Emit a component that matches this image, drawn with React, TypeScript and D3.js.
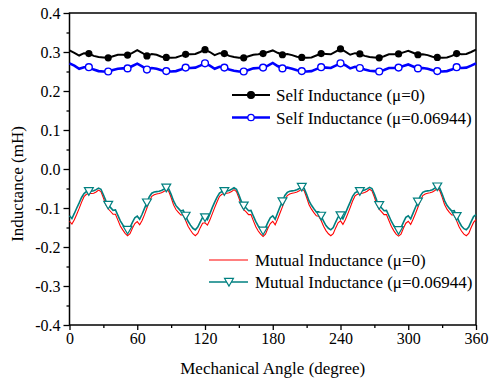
import React, { useEffect, useRef } from 'react';
import * as d3 from 'd3';

// axis ticks
const xTicks = [0, 60, 120, 180, 240, 300, 360];
const xMinorTicks = [30, 90, 150, 210, 270, 330];
const yTicks = [0.4, 0.3, 0.2, 0.1, 0, -0.1, -0.2, -0.3, -0.4];
const yTickLabels = ['0.4', '0.3', '0.2', '0.1', '0.0', '-0.1', '-0.2', '-0.3', '-0.4'];
const yMinorTicks = [0.35, 0.25, 0.15, 0.05, -0.05, -0.15, -0.25, -0.35];

// self inductance, sampled every 360/84 degree
const selfMu0 = [
  0.304, 0.298, 0.291, 0.297, 0.296, 0.290, 0.287, 0.286, 0.285, 0.289, 0.293, 0.293, 0.292, 0.298,
  0.305, 0.298, 0.290, 0.295, 0.293, 0.288, 0.286, 0.285, 0.286, 0.290, 0.294, 0.294, 0.295, 0.300,
  0.306, 0.300, 0.292, 0.297, 0.296, 0.290, 0.287, 0.285, 0.285, 0.289, 0.293, 0.294, 0.296, 0.300,
  0.304, 0.298, 0.293, 0.295, 0.292, 0.288, 0.286, 0.285, 0.286, 0.291, 0.296, 0.295, 0.294, 0.301,
  0.308, 0.301, 0.293, 0.297, 0.295, 0.290, 0.287, 0.286, 0.285, 0.289, 0.294, 0.294, 0.295, 0.299,
  0.303, 0.298, 0.293, 0.294, 0.292, 0.288, 0.286, 0.285, 0.286, 0.290, 0.296, 0.294, 0.295, 0.300,
  0.306,
];
const selfMu1 = [
  0.271, 0.265, 0.257, 0.261, 0.261, 0.255, 0.251, 0.250, 0.250, 0.254, 0.257, 0.258, 0.258, 0.264,
  0.270, 0.263, 0.255, 0.259, 0.257, 0.253, 0.251, 0.250, 0.251, 0.255, 0.260, 0.259, 0.260, 0.265,
  0.271, 0.265, 0.257, 0.262, 0.260, 0.255, 0.252, 0.250, 0.250, 0.254, 0.258, 0.259, 0.260, 0.265,
  0.272, 0.264, 0.258, 0.260, 0.257, 0.253, 0.251, 0.250, 0.251, 0.256, 0.261, 0.260, 0.259, 0.265,
  0.271, 0.266, 0.258, 0.262, 0.259, 0.255, 0.252, 0.251, 0.250, 0.254, 0.259, 0.259, 0.260, 0.264,
  0.268, 0.263, 0.258, 0.259, 0.257, 0.253, 0.251, 0.250, 0.251, 0.255, 0.261, 0.259, 0.260, 0.265,
  0.271,
];

// mutual inductance, sampled every 360/168 degree
const mutualMu0 = [
  -0.134, -0.141, -0.130, -0.116, -0.101, -0.085, -0.071, -0.065, -0.063, -0.063, -0.062, -0.059, -0.054, -0.058,
  -0.074, -0.091, -0.102, -0.109, -0.116, -0.116, -0.131, -0.146, -0.156, -0.165, -0.171, -0.166, -0.152, -0.140,
  -0.135, -0.143, -0.132, -0.117, -0.100, -0.083, -0.070, -0.066, -0.064, -0.063, -0.061, -0.058, -0.053, -0.057,
  -0.073, -0.092, -0.104, -0.111, -0.118, -0.117, -0.132, -0.147, -0.157, -0.166, -0.171, -0.165, -0.151, -0.139,
  -0.138, -0.144, -0.131, -0.115, -0.099, -0.084, -0.070, -0.065, -0.063, -0.062, -0.061, -0.058, -0.053, -0.058,
  -0.074, -0.093, -0.104, -0.110, -0.117, -0.117, -0.133, -0.148, -0.159, -0.167, -0.173, -0.167, -0.152, -0.140,
  -0.134, -0.143, -0.129, -0.113, -0.097, -0.080, -0.068, -0.064, -0.062, -0.061, -0.059, -0.056, -0.051, -0.056,
  -0.073, -0.092, -0.103, -0.112, -0.120, -0.121, -0.132, -0.147, -0.158, -0.166, -0.171, -0.166, -0.151, -0.138,
  -0.133, -0.142, -0.130, -0.115, -0.099, -0.082, -0.069, -0.065, -0.063, -0.062, -0.060, -0.057, -0.052, -0.056,
  -0.072, -0.091, -0.103, -0.110, -0.117, -0.117, -0.132, -0.147, -0.158, -0.167, -0.172, -0.167, -0.152, -0.139,
  -0.134, -0.142, -0.129, -0.114, -0.098, -0.081, -0.068, -0.064, -0.062, -0.061, -0.059, -0.055, -0.050, -0.055,
  -0.072, -0.091, -0.103, -0.111, -0.118, -0.118, -0.133, -0.148, -0.159, -0.167, -0.171, -0.165, -0.150, -0.137,
  -0.130,
];
const mutualMu1 = [
  -0.120, -0.127, -0.114, -0.100, -0.087, -0.073, -0.063, -0.058, -0.057, -0.057, -0.056, -0.053, -0.049, -0.052,
  -0.066, -0.081, -0.092, -0.099, -0.106, -0.105, -0.119, -0.133, -0.143, -0.151, -0.156, -0.150, -0.137, -0.125,
  -0.121, -0.129, -0.116, -0.101, -0.086, -0.071, -0.062, -0.059, -0.058, -0.057, -0.055, -0.052, -0.048, -0.051,
  -0.065, -0.082, -0.094, -0.101, -0.108, -0.106, -0.120, -0.134, -0.144, -0.152, -0.156, -0.149, -0.136, -0.124,
  -0.124, -0.130, -0.115, -0.099, -0.085, -0.072, -0.062, -0.058, -0.057, -0.056, -0.055, -0.052, -0.048, -0.052,
  -0.066, -0.083, -0.094, -0.100, -0.107, -0.106, -0.121, -0.135, -0.146, -0.153, -0.158, -0.151, -0.137, -0.125,
  -0.120, -0.129, -0.113, -0.097, -0.083, -0.068, -0.060, -0.057, -0.056, -0.055, -0.053, -0.050, -0.046, -0.050,
  -0.065, -0.082, -0.093, -0.102, -0.110, -0.110, -0.120, -0.134, -0.145, -0.152, -0.156, -0.150, -0.136, -0.123,
  -0.119, -0.128, -0.114, -0.099, -0.085, -0.070, -0.061, -0.058, -0.057, -0.056, -0.054, -0.051, -0.047, -0.050,
  -0.064, -0.081, -0.093, -0.100, -0.107, -0.106, -0.120, -0.134, -0.145, -0.153, -0.157, -0.151, -0.137, -0.124,
  -0.120, -0.128, -0.113, -0.098, -0.084, -0.069, -0.060, -0.057, -0.056, -0.055, -0.053, -0.049, -0.045, -0.049,
  -0.064, -0.081, -0.093, -0.101, -0.108, -0.107, -0.121, -0.135, -0.146, -0.153, -0.156, -0.149, -0.135, -0.122,
  -0.117,
];

const legendSelf = ['Self Inductance (\u03bc=0)', 'Self Inductance (\u03bc=0.06944)'];
const legendMutual = ['Mutual Inductance (\u03bc=0)', 'Mutual Inductance (\u03bc=0.06944)'];

const FONT = '"Liberation Serif", "Times New Roman", serif';

const App = () => {
  const ref = useRef<SVGSVGElement>(null);

  useEffect(() => {
    const svg = d3.select(ref.current);
    svg.selectAll('*').remove();

    const x = d3.scaleLinear().domain([0, 360]).range([69.5, 476]);
    const y = d3.scaleLinear().domain([-0.4, 0.4]).range([325, 13]);

    const selfAngles = selfMu0.map((_, i) => (i * 360) / 84);
    const mutualAngles = mutualMu0.map((_, i) => (i * 360) / 168);

    // axes
    const styleAxis = (g) => {
      g.select('.domain').remove();
      g.selectAll('line').attr('stroke', '#000').attr('stroke-width', 1.3);
      g.selectAll('text').attr('font-family', FONT).attr('font-size', 16).attr('fill', '#000');
    };
    svg.append('g')
      .attr('transform', `translate(0,${y(-0.4)})`)
      .call(d3.axisBottom(x).tickValues(xTicks).tickSize(5).tickSizeOuter(0).tickPadding(3).tickFormat(d3.format('d')))
      .call(styleAxis);
    svg.append('g')
      .attr('transform', `translate(0,${y(-0.4)})`)
      .call(d3.axisBottom(x).tickValues(xMinorTicks).tickSize(3).tickSizeOuter(0).tickFormat(() => ''))
      .call(styleAxis);
    svg.append('g')
      .attr('transform', `translate(${x(0)},0)`)
      .call(d3.axisLeft(y).tickValues(yTicks).tickSize(6).tickSizeOuter(0).tickPadding(3)
        .tickFormat((d, i) => yTickLabels[i]))
      .call(styleAxis);
    svg.append('g')
      .attr('transform', `translate(${x(0)},0)`)
      .call(d3.axisLeft(y).tickValues(yMinorTicks).tickSize(3).tickSizeOuter(0).tickFormat(() => ''))
      .call(styleAxis);

    svg.append('rect')
      .attr('x', x(0)).attr('y', y(0.4))
      .attr('width', x(360) - x(0)).attr('height', y(-0.4) - y(0.4))
      .attr('fill', 'none').attr('stroke', '#000').attr('stroke-width', 1.5);

    // titles
    svg.append('text')
      .attr('x', (x(0) + x(360)) / 2).attr('y', 374)
      .attr('text-anchor', 'middle').attr('font-family', FONT).attr('font-size', 17)
      .text('Mechanical Angle (degree)');
    svg.append('text')
      .attr('transform', 'translate(23,184) rotate(-90)')
      .attr('text-anchor', 'middle').attr('font-family', FONT).attr('font-size', 17)
      .text('Inductance (mH)');

    const line = d3.line<[number, number]>().x((d) => x(d[0])).y((d) => y(d[1]));
    const pairs = (angles, vals) => vals.map((v, i) => [angles[i], v] as [number, number]);

    // self inductance
    const s0 = pairs(selfAngles, selfMu0);
    const s1 = pairs(selfAngles, selfMu1);
    svg.append('path').datum(s0).attr('d', line).attr('fill', 'none').attr('stroke', '#000').attr('stroke-width', 2);
    svg.append('path').datum(s1).attr('d', line).attr('fill', 'none').attr('stroke', '#0000ff').attr('stroke-width', 2.6);

    const selfMarks = (d, i) => i > 0 && i < 84 && i % 4 === 0;
    svg.append('g').selectAll('circle').data(s0.filter(selfMarks)).join('circle')
      .attr('cx', (d) => x(d[0])).attr('cy', (d) => y(d[1])).attr('r', 3.6).attr('fill', '#000');
    svg.append('g').selectAll('circle').data(s1.filter(selfMarks)).join('circle')
      .attr('cx', (d) => x(d[0])).attr('cy', (d) => y(d[1])).attr('r', 3.4)
      .attr('fill', '#fff').attr('stroke', '#0000ff').attr('stroke-width', 1.4);

    // mutual inductance
    const m0 = pairs(mutualAngles, mutualMu0);
    const m1 = pairs(mutualAngles, mutualMu1);
    svg.append('path').datum(m0).attr('d', line).attr('fill', 'none').attr('stroke', '#ff0000').attr('stroke-width', 1.1);
    svg.append('path').datum(m1).attr('d', line).attr('fill', 'none').attr('stroke', '#008080').attr('stroke-width', 1.6);

    const tri = d3.symbol(d3.symbolTriangle, 34);
    const mutualMarks = (d, i) => i > 0 && i < 168 && i % 8 === 0;
    svg.append('g').selectAll('path').data(m1.filter(mutualMarks)).join('path')
      .attr('d', tri)
      .attr('transform', (d) => `translate(${x(d[0])},${y(d[1]) - 1}) rotate(180)`)
      .attr('fill', '#fff').attr('stroke', '#008080').attr('stroke-width', 1.2);

    // legends
    const lg = svg.append('g').attr('font-family', FONT).attr('font-size', 17);
    const selfRows = [95, 117.5];
    selfRows.forEach((ry, i) => {
      const col = i === 0 ? '#000' : '#0000ff';
      lg.append('line').attr('x1', 232).attr('x2', 270).attr('y1', ry).attr('y2', ry)
        .attr('stroke', col).attr('stroke-width', i === 0 ? 2 : 2.6);
      lg.append('circle').attr('cx', 251).attr('cy', ry).attr('r', i === 0 ? 3.4 : 3.2)
        .attr('fill', i === 0 ? '#000' : '#fff').attr('stroke', col).attr('stroke-width', 1.3);
      lg.append('text').attr('x', 276).attr('y', ry + 6).text(legendSelf[i]);
    });
    const mutualRows = [260, 282];
    mutualRows.forEach((ry, i) => {
      const col = i === 0 ? '#ff0000' : '#008080';
      lg.append('line').attr('x1', 209).attr('x2', 248).attr('y1', ry).attr('y2', ry)
        .attr('stroke', col).attr('stroke-width', i === 0 ? 1.1 : 1.6);
      if (i === 1) {
        lg.append('path').attr('d', tri).attr('transform', `translate(229,${ry - 1}) rotate(180)`)
          .attr('fill', '#fff').attr('stroke', col).attr('stroke-width', 1.2);
      }
      lg.append('text').attr('x', 255).attr('y', ry + 6).text(legendMutual[i]);
    });
  }, []);

  return (
    <svg
      ref={ref}
      width={489}
      height={390}
      style={{ position: 'absolute', left: 0, top: 0, background: '#fff' }}
    />
  );
};

export default App;
